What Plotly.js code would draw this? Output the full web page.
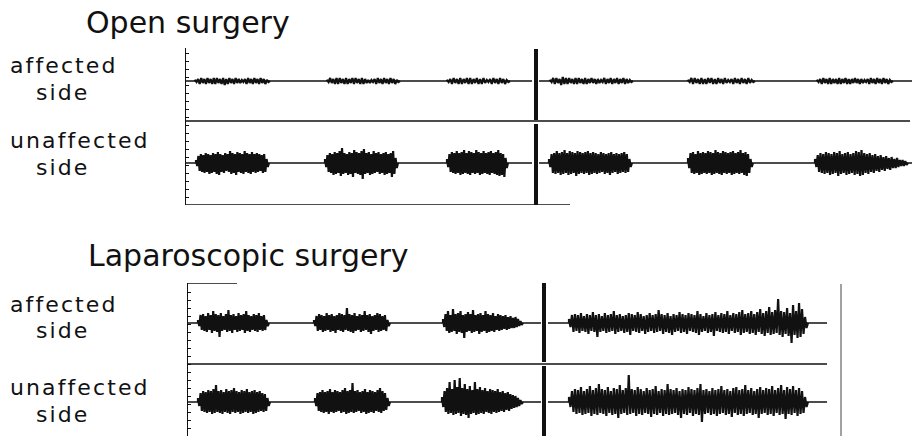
<!DOCTYPE html>
<html>
<head>
<meta charset="utf-8">
<script src="https://cdn.plot.ly/plotly-3.0.1.min.js"></script>
<style>
  html, body { margin: 0; padding: 0; background: #fff; }
  #chart { width: 919px; height: 436px; }
  text.annotation-text[style*="font-size: 22px"] { letter-spacing: 2.1px; }
</style>
</head>
<body>
<div id="chart"></div>
<script>
// ---------------- DATA (time in arbitrary units from left axis, amplitude in arbitrary units) ----------------
const panelTitles = ["Open surgery", "Laparoscopic surgery"];
const channelLabels = ["affected", "unaffected"];
const sideLabel = "side";

// Channel baselines (y units) per panel
const openBaselines = [124, 42];   // affected, unaffected
const lapBaselines = [113, 34];

// Recorded segments (gap = time-break marker)
const openSegments = [[0, 346], [353, 726]];
const lapSegments = [[0, 353], [360, 639]];
const openMarkerT = 350;
const lapMarkerT = 356;

// ---- Open surgery, affected side bursts ----
const openAffStart = [9, 141, 261, 364, 502, 631];
const openAffEnd = [84, 214, 324, 447, 569, 707];
const openAffUp = [
  [1,2,3,2,3,2,3,3,2,3,2,3,2,3,2,1,2,3,2,3,2,3,2,1],
  [1,3,2,3,3,2,3,2,3,3,2,3,2,1,1,2,3,2,3,2,3,2,1],
  [1,2,3,2,3,2,3,3,2,3,2,3,1,2,3,2,3,2,1],
  [1,3,3,2,4,3,3,2,3,3,2,3,2,3,2,2,1,3,2,3,2,3,2,3,2,1],
  [1,3,3,2,3,2,3,3,2,3,2,3,1,2,3,2,3,2,3,1],
  [1,2,3,2,3,2,2,3,2,3,2,2,3,2,2,1,2,3,2,3,2,3,2,1]
];
const openAffDn = [
  [1,3,2,3,2,3,3,2,3,4,3,2,3,2,2,1,3,2,3,2,3,2,3,1],
  [1,2,3,3,2,3,3,2,3,2,3,3,2,2,1,3,2,3,2,3,2,3,1],
  [1,3,2,3,3,2,3,3,2,3,3,2,1,3,2,3,2,3,1],
  [1,3,2,4,3,3,2,3,3,2,3,3,2,2,3,2,1,3,2,3,2,3,2,3,2,1],
  [1,3,2,3,3,3,2,3,3,2,3,2,1,3,2,3,2,3,2,1],
  [1,3,2,3,3,2,3,3,2,3,3,2,2,3,2,1,3,2,3,2,3,2,3,1]
];

// ---- Open surgery, unaffected side bursts ----
const openUnaStart = [10, 139, 261, 363, 502, 629];
const openUnaEnd = [83, 212, 322, 446, 567, 722];
const openUnaUp = [
  [3,7,9,8,10,9,8,10,9,11,9,8,10,9,12,10,9,11,10,9,12,10,9,11,9,10,9,8,9,4],
  [4,8,10,9,11,10,12,15,10,9,11,10,13,11,10,12,14,10,11,9,12,10,11,9,10,11,9,10,12,5],
  [4,9,11,10,12,10,11,13,10,12,11,10,13,11,10,12,10,11,12,10,11,13,10,9,5],
  [4,9,10,12,10,11,13,10,12,11,10,12,11,10,11,12,10,11,10,9,11,10,9,10,11,9,10,9,10,11,9,4],
  [5,10,11,9,12,10,11,10,12,11,10,13,11,10,12,11,10,11,12,10,11,13,10,11,9,4],
  [4,8,10,9,11,10,9,11,10,12,9,10,11,9,10,12,11,13,10,9,10,8,9,7,8,6,7,5,6,4,5,3,3,2]
];
const openUnaDn = [
  [3,8,9,10,9,11,10,9,11,12,9,10,8,9,11,10,12,9,10,11,9,10,11,9,10,9,8,10,9,4],
  [4,9,10,12,11,10,13,11,10,12,11,14,10,11,12,16,11,10,12,11,10,9,11,10,12,11,10,14,11,5],
  [4,9,10,11,10,12,11,10,11,12,10,11,10,12,11,10,11,12,10,11,12,13,12,14,5],
  [4,10,11,10,12,11,10,12,11,10,13,11,10,11,10,12,11,10,11,10,9,11,10,12,10,9,11,10,9,10,9,4],
  [5,10,11,10,12,11,10,11,10,12,11,10,11,12,10,11,10,12,11,10,11,10,12,13,10,4],
  [4,9,10,11,10,12,11,10,13,11,10,12,11,10,12,11,13,12,10,11,9,10,8,9,7,8,6,7,5,5,4,3,3,2]
];

// ---- Laparoscopic surgery, affected side bursts ----
const lapAffStart = [10, 126, 255, 381];
const lapAffEnd = [81, 202, 335, 620];
const lapAffUp = [
  [3,8,9,7,10,8,12,9,8,10,7,9,13,8,9,7,10,8,9,12,8,7,9,8,10,7,8,3],
  [3,7,9,8,7,10,8,9,7,8,10,9,8,15,9,8,10,7,9,8,12,8,9,7,8,10,9,7,8,3],
  [4,9,12,8,14,9,10,12,8,9,11,9,13,8,9,10,8,12,9,8,10,7,9,8,7,8,6,7,5,6,4,2],
  [4,8,9,8,10,7,9,8,11,8,9,7,10,8,9,12,8,9,7,8,10,9,8,11,9,7,8,10,8,9,13,9,8,10,7,9,8,11,9,8,10,9,8,12,9,7,10,8,9,11,8,10,9,12,8,10,9,11,13,9,10,12,9,11,14,10,12,16,11,13,24,12,11,15,10,18,12,20,14,6]
];
const lapAffDn = [
  [3,7,8,9,7,10,8,9,14,8,7,9,8,10,7,9,8,7,10,8,9,7,8,9,7,8,7,3],
  [3,8,7,9,8,7,9,8,10,7,8,9,7,8,9,10,8,7,9,8,7,9,11,8,7,9,8,7,8,3],
  [4,8,10,9,8,11,9,10,15,9,8,10,9,8,11,9,8,10,9,8,9,7,8,7,6,7,6,5,5,4,3,2],
  [4,9,8,10,8,9,11,8,9,14,9,8,10,9,8,11,9,8,10,9,12,8,9,10,8,11,9,8,10,9,8,11,9,10,12,9,8,10,9,11,8,9,10,12,9,8,10,9,13,8,9,10,9,11,8,10,9,12,10,9,11,10,12,9,11,13,10,12,11,10,12,14,11,13,20,12,15,14,11,5]
];

// ---- Laparoscopic surgery, unaffected side bursts ----
const lapUnaStart = [10, 127, 254, 381];
const lapUnaEnd = [82, 202, 335, 620];
const lapUnaUp = [
  [4,9,11,10,12,11,13,17,11,12,10,13,11,12,14,11,10,12,11,13,10,11,12,10,11,9,8,4],
  [4,9,10,12,10,11,13,10,12,11,10,12,14,11,12,19,11,12,10,11,13,10,12,11,10,12,14,11,9,4],
  [5,11,14,20,13,22,15,24,14,18,13,16,12,20,13,15,12,14,11,13,12,11,13,10,11,9,10,8,7,6,4,2],
  [5,11,13,12,15,11,13,16,12,14,18,13,12,15,11,14,13,17,12,14,27,13,12,15,13,11,14,12,13,16,11,13,12,18,13,12,14,11,13,12,15,13,12,14,18,12,13,11,14,12,13,16,12,13,11,14,15,12,13,17,12,14,11,13,15,12,14,13,16,12,14,17,12,15,13,16,12,14,11,5]
];
const lapUnaDn = [
  [4,9,10,11,10,12,11,10,11,12,10,11,12,10,11,10,12,11,10,11,10,12,11,10,9,10,9,4],
  [4,9,10,11,10,12,10,11,10,9,11,10,12,11,10,11,10,9,11,10,12,11,10,11,9,10,11,9,8,4],
  [5,10,12,11,13,12,11,14,12,13,16,12,11,13,12,11,12,10,11,12,10,11,10,9,10,8,9,7,6,5,4,2],
  [5,10,12,11,13,12,11,14,12,13,11,12,14,11,13,12,16,12,11,13,12,11,14,12,13,11,12,15,12,13,11,14,12,13,12,11,13,16,12,13,11,14,12,13,20,12,11,13,12,14,12,11,13,12,15,11,13,12,14,12,11,13,12,16,12,11,13,12,14,11,13,12,17,12,13,11,14,12,11,5]
];

// ---------------- LAYOUT HELPERS ----------------
const W = 919, H = 436;
const px = v => v / W;
const py = v => 1 - v / H;
const INK = "#111";

function baselineTrace(xa, ya, base, segs) {
  const x = [], y = [];
  segs.forEach((s, i) => {
    if (i) { x.push(null); y.push(null); }
    x.push(s[0], s[1]); y.push(base, base);
  });
  return { x, y, xaxis: xa, yaxis: ya, mode: "lines", line: { color: INK, width: 1.5 }, hoverinfo: "skip" };
}

// Each burst drawn as an oscillating trace: peaks (up) and troughs (dn) alternate in time
function burstTraces(xa, ya, base, starts, ends, ups, dns) {
  return starts.map((s, k) => {
    const e = ends[k], up = ups[k], dn = dns[k];
    const pts = [];
    up.forEach((v, i) => pts.push([s + (i + 0.0) * (e - s) / up.length, base + v]));
    dn.forEach((v, i) => pts.push([s + (i + 0.5) * (e - s) / dn.length, base - v]));
    pts.sort((a, b) => a[0] - b[0]);
    const x = [s].concat(pts.map(p => p[0]), [e]);
    const y = [base].concat(pts.map(p => p[1]), [base]);
    return { x, y, xaxis: xa, yaxis: ya, mode: "lines", fill: "toself", fillcolor: INK,
             line: { color: INK, width: 2.2 }, hoverinfo: "skip" };
  });
}

const traces = [
  baselineTrace("x", "y", openBaselines[0], openSegments),
  baselineTrace("x", "y", openBaselines[1], openSegments),
  baselineTrace("x2", "y2", lapBaselines[0], lapSegments),
  baselineTrace("x2", "y2", lapBaselines[1], lapSegments),
  ...burstTraces("x", "y", openBaselines[0], openAffStart, openAffEnd, openAffUp, openAffDn),
  ...burstTraces("x", "y", openBaselines[1], openUnaStart, openUnaEnd, openUnaUp, openUnaDn),
  ...burstTraces("x2", "y2", lapBaselines[0], lapAffStart, lapAffEnd, lapAffUp, lapAffDn),
  ...burstTraces("x2", "y2", lapBaselines[1], lapUnaStart, lapUnaEnd, lapUnaUp, lapUnaDn)
];

const lineShape = (xr, yr, x0, x1, y0, y1, w, c) => ({
  type: "line", xref: xr, yref: yr, x0, x1, y0, y1, line: { color: c || INK, width: w }
});

const shapes = [
  lineShape("x", "y", 0, 384, 0, 0, 1.4),
  lineShape("x", "y", 0, 724, 84, 84, 1.4),
  lineShape("x", "y", openMarkerT, openMarkerT, 0, 81, 4),
  lineShape("x", "y", openMarkerT, openMarkerT, 85, 156, 4),
  lineShape("x2", "y2", 0, 49, 153, 153, 1.4),
  lineShape("x2", "y2", 0, 639, 72, 72, 1.4),
  lineShape("x2", "y2", lapMarkerT, lapMarkerT, 0, 70, 4),
  lineShape("x2", "y2", lapMarkerT, lapMarkerT, 74, 153, 4),
  lineShape("x2", "y2", 653, 653, 0, 152, 1.6, "#8a8a8a")
];

const titleFont = { family: "DejaVu Sans", size: 30, color: INK };
const labelFont = { family: "DejaVu Sans", size: 22, color: INK };
const ann = (text, x, y, font) => ({
  text, x: px(x), y: py(y), xref: "paper", yref: "paper",
  xanchor: "left", yanchor: "middle", showarrow: false, font
});

const annotations = [
  ann(panelTitles[0], 84, 22, titleFont),
  ann(panelTitles[1], 86, 255, titleFont),
  ann(channelLabels[0], 8, 66, labelFont),
  ann(sideLabel, 34, 92, labelFont),
  ann(channelLabels[1], 8, 140, labelFont),
  ann(sideLabel, 34, 167, labelFont),
  ann(channelLabels[0], 8, 304, labelFont),
  ann(sideLabel, 34, 330, labelFont),
  ann(channelLabels[1], 8, 387, labelFont),
  ann(sideLabel, 34, 414, labelFont)
];

const yStyle = {
  showline: true, linecolor: INK, linewidth: 1.2, ticks: "inside", ticklen: 3, tickwidth: 1,
  tickcolor: INK, dtick: 8, tick0: 0, showticklabels: false, showgrid: false, zeroline: false, fixedrange: true
};

const layout = {
  width: W, height: H, margin: { l: 0, r: 0, t: 0, b: 0 },
  paper_bgcolor: "#fff", plot_bgcolor: "rgba(0,0,0,0)", showlegend: false,
  xaxis: { domain: [px(186), px(912)], range: [0, 726], visible: false, anchor: "y", fixedrange: true },
  yaxis: Object.assign({ domain: [py(205), py(48)], range: [0, 157], anchor: "x" }, yStyle),
  xaxis2: { domain: [px(188), px(914)], range: [0, 726], visible: false, anchor: "y2", fixedrange: true },
  yaxis2: Object.assign({ domain: [0, py(283)], range: [0, 153], anchor: "x2" }, yStyle),
  shapes, annotations
};

Plotly.newPlot("chart", traces, layout, { staticPlot: true, displayModeBar: false });
</script>
</body>
</html>
